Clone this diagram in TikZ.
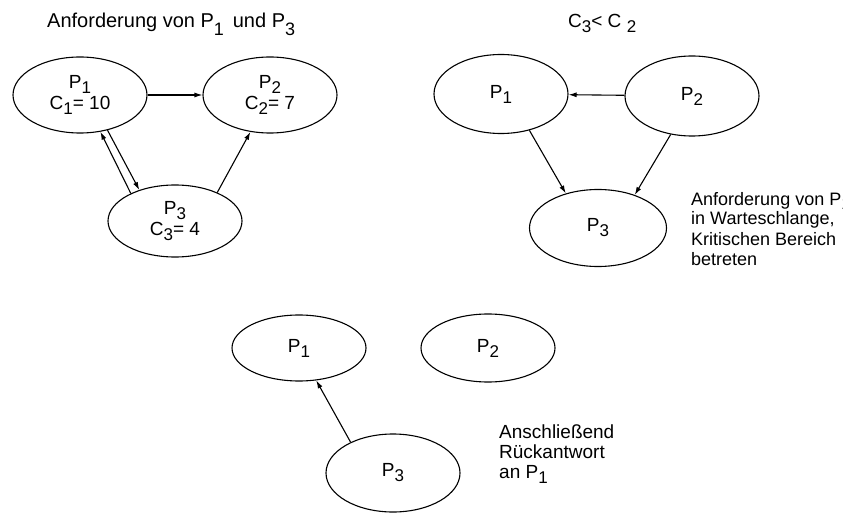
\documentclass[tikz,border=0pt]{standalone}
\usepackage{fontspec}
\setmainfont{Liberation Sans}
\usetikzlibrary{shapes.geometric,arrows.meta}
\newcommand{\idx}[1]{\raisebox{-5pt}{\fontsize{17}{17}\selectfont #1}}
\newcommand{\tidx}[1]{\raisebox{-8pt}{\fontsize{18}{18}\selectfont #1}}

\begin{document}
\begin{tikzpicture}[x=1pt,y=-1pt,
proc/.style={ellipse,draw,line width=1.1pt,inner sep=0pt,
minimum width=134pt,minimum height=76pt,align=center,
font=\fontsize{19}{21}\selectfont},
msg/.style={-{Latex[length=8pt,width=5pt]},line width=1.1pt},
note/.style={align=left,inner sep=0pt,font=\fontsize{19}{20}\selectfont}]
\useasboundingbox (0,0) rectangle (843,513);
% Anforderung von P1 und P3
\node[note,anchor=base west,font=\fontsize{20}{22}\selectfont](titleA) at (47,28)
{Anforderung von P\tidx{1} \,und P\tidx{3}};
\node[proc](a1) at (80,95) {P\idx{1}\\C\idx{1}= 10};
\node[proc](a2) at (270,95) {P\idx{2}\\C\idx{2}= 7};
\node[proc,minimum height=72pt](a3) at (175,221) {P\idx{3}\\C\idx{3}= 4};
\draw[msg] (a1)--(a2);
\draw[msg] (a3.148)--(a1.-61);
\draw[msg] (a1.-52)--(a3.139);
\draw[msg] (a3.34)--(a2.-118);
% C3 < C2
\node[note,anchor=base west](titleB) at (568,28) {C\idx{3}< C \idx{2}};
\node[proc,minimum height=79pt](b1) at (501,94) {P\idx{1}};
\node[proc,minimum height=80pt](b2) at (692,96) {P\idx{2}};
\node[proc,minimum width=137pt,minimum height=77pt](b3) at (598,228) {P\idx{3}};
\draw[msg] (b2)--(b1);
\draw[msg] (b1.-52)--(b3.133);
\draw[msg] (b2.-119)--(b3.42);
\node[note,anchor=base west,font=\fontsize{18}{20}\selectfont](noteB) at (691,265)
{Anforderung von P\idx{1}\\in Warteschlange,\\Kritischen Bereich\\betreten};
% Rueckantwort
\node[proc,minimum height=66pt](c1) at (299,348) {P\idx{1}};
\node[proc,minimum height=68pt](c2) at (488,348) {P\idx{2}};
\node[proc,minimum height=78pt](c3) at (393,473) {P\idx{3}};
\draw[msg] (c3.144)--(c1.-62);
\node[note,anchor=base west](noteC) at (499,478) {Anschließend\\Rückantwort\\an P\idx{1}};
\end{tikzpicture}
\end{document}
